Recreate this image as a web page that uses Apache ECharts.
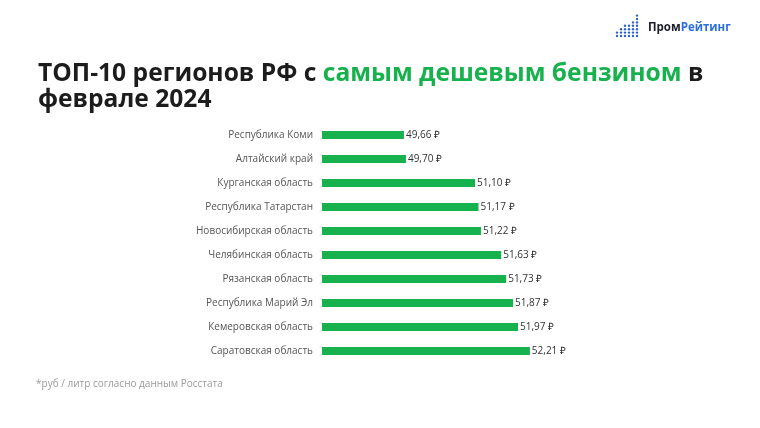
<!DOCTYPE html>
<html><head><meta charset="utf-8">
<script src="https://cdn.jsdelivr.net/npm/echarts@6/dist/echarts.min.js"></script>
<style>html,body{margin:0;padding:0;background:#fff}#c{width:760px;height:428px}</style>
</head><body><div id="c"></div>
<script>
const regions = ['Республика Коми','Алтайский край','Курганская область','Республика Татарстан','Новосибирская область','Челябинская область','Рязанская область','Республика Марий Эл','Кемеровская область','Саратовская область'];
const prices = [49.66, 49.70, 51.10, 51.17, 51.22, 51.63, 51.73, 51.87, 51.97, 52.21];
const titleParts = ['ТОП-10 регионов РФ с ', 'самым дешевым бензином', ' в', 'феврале 2024'];
const footnote = '*руб / литр согласно данным Росстата';
const logoParts = ['Пром', 'Рейтинг'];
const logoCols = [2, 3, 4, 4, 5, 7];

const FONT = 'Open Sans';
const green = '#17b14d';
const chart = echarts.init(document.getElementById('c'));
const graphics = [];
logoCols.forEach((n, ci) => {
  for (let k = 0; k < n; k++) {
    graphics.push({type:'circle', shape:{cx:617 + ci*4, cy:36 - k*3.4, r:1.2}, style:{fill:'#2b63c9'}});
  }
});
graphics.push({type:'text', left:648, top:22, style:{
  text:'{a|' + logoParts[0] + '}{b|' + logoParts[1] + '}',
  rich:{a:{fontFamily:FONT, fontWeight:'bold', fontSize:11.5, fill:'#1d1d2b'}, b:{fontFamily:FONT, fontWeight:'bold', fontSize:11.5, fill:'#2a6fdc'}}
}});
graphics.push({type:'text', left:36, top:379, style:{text:footnote, fontFamily:FONT, fontSize:10, fill:'#9a9a9a'}});

chart.setOption({
  animation:false,
  textStyle:{fontFamily:FONT},
  title:{
    left:33, top:56,
    text:'{k|' + titleParts[0] + '}{g|' + titleParts[1] + '}{k|' + titleParts[2] + '}\n{k|' + titleParts[3] + '}',
    textStyle:{rich:{
      k:{fontFamily:FONT, fontWeight:'bold', fontSize:24.6, color:'#1c1c1c', lineHeight:26},
      g:{fontFamily:FONT, fontWeight:'bold', fontSize:24.6, color:green, lineHeight:26}
    }}
  },
  graphic:graphics,
  grid:{left:322, right:43, top:123, height:240, containLabel:false},
  xAxis:{type:'value', min:48, max:56, show:false},
  yAxis:{type:'category', data:regions, inverse:true,
    axisLine:{show:false}, axisTick:{show:false},
    axisLabel:{color:'#555', fontSize:10, margin:9, fontFamily:FONT}},
  series:[{type:'bar', data:prices, barWidth:8, itemStyle:{color:green},
    label:{show:true, position:'right', distance:2, color:'#333', fontSize:10, fontFamily:FONT,
      formatter:p => p.value.toFixed(2).replace('.', ',') + ' ₽'}}]
});
</script></body></html>
